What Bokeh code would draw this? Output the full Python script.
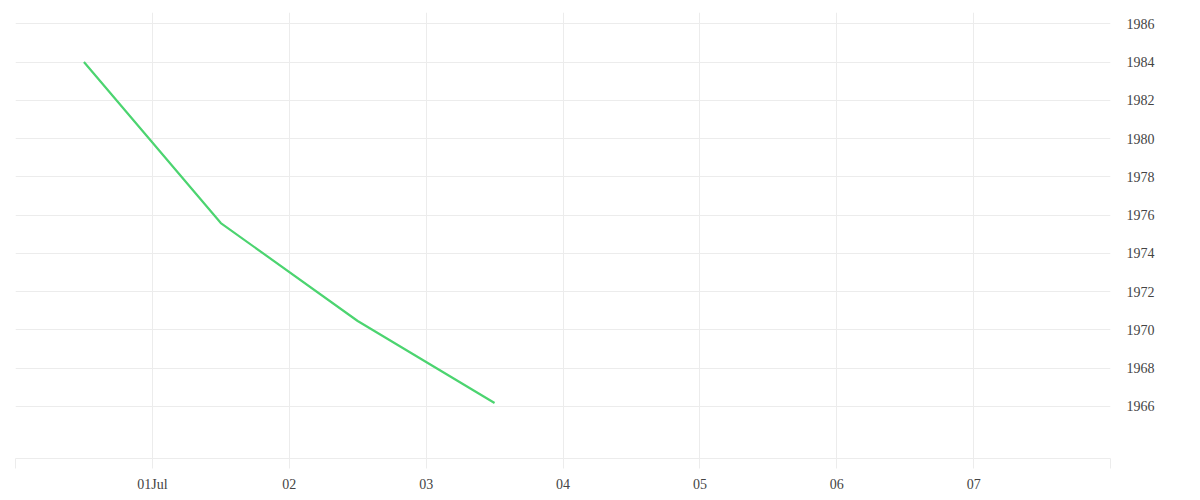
import pandas as pd
from bokeh.plotting import figure
from bokeh.models import (DatetimeAxis, LinearAxis, FixedTicker, CustomJSTickFormatter,
                          Range1d, Grid)
from bokeh.embed import file_html
from bokeh.resources import INLINE

# ---- data ----
dates = ["2024-06-30 12:00", "2024-07-01 12:00", "2024-07-02 12:00", "2024-07-03 12:00"]
values = [1984.0, 1975.58, 1970.46, 1966.17]
x_tick_dates = ["2024-06-30", "2024-07-01", "2024-07-02", "2024-07-03", "2024-07-04",
                "2024-07-05", "2024-07-06", "2024-07-07", "2024-07-08"]
y_ticks = [1966, 1968, 1970, 1972, 1974, 1976, 1978, 1980, 1982, 1984, 1986]
x_start, x_end = "2024-06-30", "2024-07-08"
y_start, y_end = 1963.27, 1986.59

xs = pd.to_datetime(dates)
tick_ms = [pd.Timestamp(d).value / 1e6 for d in x_tick_dates]

FONT = "Liberation Serif"
GRID = "#ececec"
TEXT = "#444444"

p = figure(x_axis_type=None, y_axis_location=None,
           frame_width=1095, frame_height=446,
           min_border_left=15, min_border_top=12, min_border_right=70, min_border_bottom=30,
           x_range=Range1d(pd.Timestamp(x_start), pd.Timestamp(x_end)),
           y_range=Range1d(y_start, y_end),
           output_backend="svg", toolbar_location=None)
p.outline_line_color = None
p.background_fill_color = "white"
p.border_fill_color = "white"

x_ticker = FixedTicker(ticks=tick_ms, minor_ticks=[])
xaxis = DatetimeAxis(ticker=x_ticker)
xaxis.formatter = CustomJSTickFormatter(code="""
    if (index === 0 || index === ticks.length - 1) { return ""; }
    const d = new Date(tick);
    const months = ["Jan","Feb","Mar","Apr","May","Jun","Jul","Aug","Sep","Oct","Nov","Dec"];
    const dd = String(d.getUTCDate()).padStart(2, "0");
    return d.getUTCDate() === 1 ? dd + months[d.getUTCMonth()] : dd;
""")
xaxis.axis_line_color = GRID
xaxis.major_tick_line_color = GRID
xaxis.major_tick_out = 10
xaxis.major_tick_in = 0
xaxis.minor_tick_line_color = None
xaxis.major_label_standoff = 8
xaxis.major_label_text_font = FONT
xaxis.major_label_text_font_size = "14px"
xaxis.major_label_text_color = TEXT
p.add_layout(xaxis, "below")

y_ticker = FixedTicker(ticks=y_ticks, minor_ticks=[])
yaxis = LinearAxis(ticker=y_ticker)
yaxis.axis_line_color = None
yaxis.major_tick_line_color = None
yaxis.minor_tick_line_color = None
yaxis.major_tick_out = 0
yaxis.major_tick_in = 0
yaxis.major_label_standoff = 16
yaxis.major_label_text_font = FONT
yaxis.major_label_text_font_size = "14px"
yaxis.major_label_text_color = TEXT
p.add_layout(yaxis, "right")

for g in list(p.center):
    if isinstance(g, Grid):
        p.center.remove(g)
p.add_layout(Grid(dimension=0, ticker=x_ticker, grid_line_color=GRID))
p.add_layout(Grid(dimension=1, ticker=y_ticker, grid_line_color=GRID))

p.line(xs, values, line_color="#4cd470", line_width=2.2)

open("out.html", "w").write(file_html(p, INLINE))
